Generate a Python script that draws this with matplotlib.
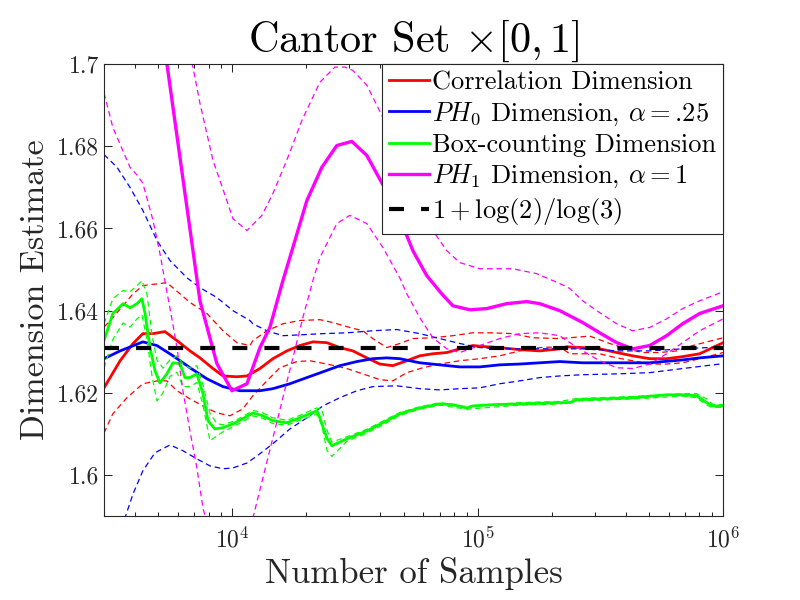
import numpy as np
import matplotlib
matplotlib.use("Agg")
import matplotlib.pyplot as plt
from matplotlib.ticker import FixedLocator, FixedFormatter, LogLocator, NullFormatter

plt.rcParams.update({
    "font.family": "cmr10",
    "mathtext.fontset": "cm",
    "axes.formatter.use_mathtext": True,
})

TITLE = r"Cantor Set $\times[0,1]$"
XLABEL = "Number of Samples"
YLABEL = "Dimension Estimate"
LABELS = ["Correlation Dimension", r"$PH_0$ Dimension, $\alpha=$.25",
          "Box-counting Dimension", r"$PH_1$ Dimension, $\alpha=1$",
          r"$1+\log(2)/\log(3)$"]

# ---- Correlation dimension (red) ----
corr_n = [3000, 3490, 3940, 4320, 4750, 5310, 5950, 6720, 7380, 8340, 9160, 10440, 11470,
          12950, 14630, 16680, 18840, 21290, 24270, 27420, 30960, 35310, 39900, 45050,
          51380, 58050, 65570, 74780, 84450, 95390, 108800, 122870, 148260, 178790,
          215750, 230340, 267570, 313800, 368100, 427500, 501500, 588100, 683300, 801600, 1000000]
corr_y = [1.6212, 1.6278, 1.6320, 1.6344, 1.6344, 1.6349, 1.6327, 1.6302, 1.6285, 1.6259,
          1.6241, 1.6239, 1.6241, 1.6259, 1.6283, 1.6302, 1.6315, 1.6324, 1.6322, 1.6310,
          1.6302, 1.6285, 1.6270, 1.6266, 1.6278, 1.6290, 1.6295, 1.6298, 1.6307, 1.6315,
          1.6312, 1.6310, 1.6305, 1.6302, 1.6307, 1.6312, 1.6310, 1.6307, 1.6298, 1.6290,
          1.6283, 1.6283, 1.6288, 1.6295, 1.6322]
corr_hi_n = [3000, 3260, 3940, 4320, 5410, 6120, 6720, 7880, 9160, 10440, 11790, 12130, 13830,
             16070, 18840, 22730, 25680, 30110, 34030, 37350, 42590, 48110, 54350, 65570,
             79080, 95390, 115070, 138860, 167420, 215750, 285710, 344800, 404200, 469600,
             550800, 646200, 750500, 1000000]
corr_hi_y = [1.6360, 1.6383, 1.6441, 1.6461, 1.6468, 1.6441, 1.6420, 1.6393, 1.6351, 1.6322,
             1.6315, 1.6327, 1.6351, 1.6368, 1.6376, 1.6378, 1.6371, 1.6359, 1.6351, 1.6332,
             1.6310, 1.6320, 1.6332, 1.6334, 1.6339, 1.6346, 1.6346, 1.6344, 1.6334, 1.6332,
             1.6338, 1.6320, 1.6307, 1.6298, 1.6298, 1.6302, 1.6315, 1.6334]
corr_lo_n = [3000, 3260, 3720, 4320, 4930, 5410, 5950, 6720, 7590, 8650, 9780, 11040, 12130,
             13830, 15620, 18330, 20700, 24270, 29280, 34030, 39900, 45050, 51380, 59700,
             70010, 84450, 101870, 122870, 148260, 178790, 215750, 236900, 313800, 368100,
             427500, 501500, 588100, 683300, 801600, 1000000]
corr_lo_y = [1.6102, 1.6149, 1.6188, 1.6222, 1.6229, 1.6229, 1.6205, 1.6185, 1.6168, 1.6151,
             1.6144, 1.6161, 1.6193, 1.6229, 1.6261, 1.6276, 1.6278, 1.6270, 1.6259, 1.6246,
             1.6232, 1.6229, 1.6249, 1.6261, 1.6270, 1.6278, 1.6283, 1.6290, 1.6302, 1.6310,
             1.6312, 1.6295, 1.6295, 1.6285, 1.6278, 1.6270, 1.6270, 1.6273, 1.6283, 1.6298]

# ---- PH0 dimension (blue) ----
ph0_n = [3000, 3490, 4320, 4930, 5730, 6720, 7880, 9160, 10730, 12950, 14630, 17160, 20120,
         23380, 27420, 32170, 37350, 42590, 48110, 58050, 70010, 84450, 101870, 122870,
         148260, 178790, 215750, 267570, 368100, 501500, 683300, 801600, 1000000]
ph0_y = [1.6283, 1.6302, 1.6324, 1.6315, 1.6290, 1.6261, 1.6234, 1.6215, 1.6205, 1.6205,
         1.6210, 1.6222, 1.6237, 1.6251, 1.6266, 1.6276, 1.6283, 1.6285, 1.6283, 1.6273,
         1.6268, 1.6263, 1.6263, 1.6268, 1.6270, 1.6273, 1.6276, 1.6273, 1.6273, 1.6273,
         1.6280, 1.6285, 1.6290]
ph0_hi_n = [3000, 3390, 3830, 4320, 4930, 5570, 6530, 7380, 8650, 10050, 11790, 12130, 13830,
            16070, 18840, 23380, 29280, 37350, 46800, 58050, 70010, 84450, 101870, 122870,
            178790, 267570, 368100, 501500, 683300, 1000000]
ph0_hi_y = [1.6780, 1.6749, 1.6700, 1.6644, 1.6571, 1.6522, 1.6480, 1.6456, 1.6432, 1.6400,
            1.6376, 1.6368, 1.6351, 1.6339, 1.6341, 1.6344, 1.6346, 1.6351, 1.6354, 1.6344,
            1.6332, 1.6320, 1.6310, 1.6307, 1.6307, 1.6307, 1.6302, 1.6302, 1.6307, 1.6312]
ph0_lo_n = [3000, 3650, 3940, 4320, 4840, 5570, 6290, 7170, 8110, 9160, 10050, 11470, 12590,
            14630, 17160, 20120, 23380, 27420, 32170, 37350, 46800, 58050, 70010, 84450,
            101870, 122870, 148260, 178790, 215750, 267570, 368100, 501500, 683300, 1000000]
ph0_lo_y = [1.5740, 1.5895, 1.5954, 1.6010, 1.6054, 1.6073, 1.6059, 1.6039, 1.6022, 1.6015,
            1.6017, 1.6029, 1.6046, 1.6076, 1.6112, 1.6139, 1.6168, 1.6188, 1.6205, 1.6215,
            1.6217, 1.6210, 1.6207, 1.6210, 1.6212, 1.6222, 1.6229, 1.6237, 1.6241, 1.6244,
            1.6246, 1.6249, 1.6259, 1.6271]

# ---- Box-counting dimension (green) ----
box_n = [3000, 3260, 3590, 3830, 4090, 4280, 4410, 4620, 4840, 5070, 5410, 5730, 6120, 6410,
         6720, 7170, 7590, 7960, 8490, 9160, 10050, 11040, 12130, 13320, 14630, 16680, 18840,
         22100, 22730, 24270, 25440, 29280, 35310, 42590, 48110, 58050, 70010, 79080, 90190,
         95390, 115070, 148260, 215750, 236900, 252980, 313800, 427500, 588100, 683300,
         779000, 855900, 905300, 1000000]
box_y = [1.6327, 1.6393, 1.6417, 1.6407, 1.6417, 1.6429, 1.6393, 1.6310, 1.6254, 1.6224,
         1.6246, 1.6273, 1.6271, 1.6237, 1.6237, 1.6246, 1.6198, 1.6132, 1.6112, 1.6115,
         1.6124, 1.6137, 1.6151, 1.6144, 1.6132, 1.6127, 1.6139, 1.6156, 1.6139, 1.6090,
         1.6071, 1.6088, 1.6107, 1.6132, 1.6149, 1.6163, 1.6173, 1.6171, 1.6163, 1.6168,
         1.6171, 1.6173, 1.6176, 1.6176, 1.6183, 1.6185, 1.6188, 1.6195, 1.6195, 1.6193,
         1.6176, 1.6168, 1.6168]
box_b_n = [3000, 3260, 3590, 3830, 4090, 4280, 4490, 4710, 4930, 5220, 5570, 5950, 6290, 6720,
           7170, 7590, 8110, 8650, 9160, 10050, 11040, 12130, 13320, 14630, 16680, 18840,
           22100, 23160, 24270, 25440, 29280, 35310, 42590, 48110, 58050, 70010, 90190,
           148260, 215750, 252980, 427500, 683300, 779000, 855900, 905300, 1000000]
box_hi_y = [1.6368, 1.6429, 1.6449, 1.6446, 1.6461, 1.6473, 1.6440, 1.6340, 1.6280, 1.6260,
            1.6280, 1.6290, 1.6270, 1.6260, 1.6266, 1.6220, 1.6150, 1.6125, 1.6122, 1.6130,
            1.6142, 1.6157, 1.6151, 1.6139, 1.6133, 1.6145, 1.6163, 1.6160, 1.6110, 1.6080,
            1.6093, 1.6111, 1.6136, 1.6152, 1.6166, 1.6176, 1.6166, 1.6176, 1.6179, 1.6186,
            1.6191, 1.6198, 1.6198, 1.6185, 1.6172, 1.6171]
box_lo_y = [1.6260, 1.6330, 1.6370, 1.6360, 1.6380, 1.6390, 1.6330, 1.6240, 1.6180, 1.6200,
            1.6240, 1.6250, 1.6215, 1.6215, 1.6225, 1.6170, 1.6083, 1.6095, 1.6105, 1.6117,
            1.6130, 1.6144, 1.6138, 1.6125, 1.6121, 1.6133, 1.6148, 1.6120, 1.6060, 1.6045,
            1.6082, 1.6102, 1.6127, 1.6145, 1.6160, 1.6170, 1.6160, 1.6170, 1.6173, 1.6180,
            1.6185, 1.6192, 1.6188, 1.6170, 1.6164, 1.6165]

# ---- PH1 dimension (magenta) ----
ph1_n = [4490, 5410, 7380, 8650, 9960, 11470, 12960, 14220, 16070, 17490, 20120, 23160, 26650,
         30680, 35300, 41800, 50400, 54400, 62000, 71300, 79100, 92800, 108900, 131100,
         158200, 178800, 215600, 267700, 313800, 368200, 427800, 501600, 588000, 683000,
         801700, 1000000]
ph1_y = [1.7350, 1.7002, 1.6424, 1.6271, 1.6205, 1.6222, 1.6310, 1.6359, 1.6473, 1.6546,
         1.6668, 1.6749, 1.6802, 1.6812, 1.6778, 1.6698, 1.6595, 1.6546, 1.6485, 1.6441,
         1.6412, 1.6402, 1.6405, 1.6417, 1.6422, 1.6417, 1.6400, 1.6371, 1.6346, 1.6322,
         1.6307, 1.6315, 1.6339, 1.6368, 1.6393, 1.6412]
ph1_hi_n = [5070, 6910, 7380, 8340, 9500, 10050, 11470, 13200, 14630, 16840, 19200, 22730,
            26170, 28730, 30960, 35310, 41030, 50400, 65570, 74780, 84450, 101870, 138860,
            173830, 215750, 236900, 267570, 313800, 368100, 427500, 501500, 588100, 683300,
            801600, 1000000]
ph1_hi_y = [1.7300, 1.6993, 1.6905, 1.6766, 1.6668, 1.6624, 1.6595, 1.6632, 1.6685, 1.6773,
            1.6863, 1.6956, 1.6993, 1.6993, 1.6985, 1.6949, 1.6871, 1.6720, 1.6595, 1.6546,
            1.6517, 1.6502, 1.6502, 1.6490, 1.6466, 1.6454, 1.6424, 1.6395, 1.6368, 1.6351,
            1.6359, 1.6380, 1.6405, 1.6424, 1.6446]
ph1_lo_n = [3000, 3260, 3830, 4090, 4320, 4750, 5070, 5310, 5660, 5950, 6290, 6720, 7170,
            7590, 7780, 9500, 12130, 13320, 14630, 16070, 17650, 19380, 21290, 22730, 26660,
            30110, 35310, 41030, 48110, 51380, 58050, 65570, 74780, 84450, 101870, 122870,
            148260, 178790, 215750, 230340, 267570, 313800, 368100, 427500, 501500, 588100,
            683300, 801600, 1000000]
ph1_lo_y = [1.6930, 1.6846, 1.6749, 1.6730, 1.6710, 1.6620, 1.6539, 1.6473, 1.6383, 1.6310,
            1.6205, 1.6107, 1.6017, 1.5920, 1.5895, 1.5600, 1.5895, 1.5993, 1.6090, 1.6188,
            1.6285, 1.6383, 1.6473, 1.6529, 1.6612, 1.6632, 1.6612, 1.6554, 1.6480, 1.6441,
            1.6383, 1.6334, 1.6307, 1.6298, 1.6315, 1.6332, 1.6344, 1.6346, 1.6339, 1.6327,
            1.6302, 1.6278, 1.6261, 1.6259, 1.6270, 1.6295, 1.6322, 1.6351, 1.6380]

# ---- reference value ----
ref_n = [3000, 1000000]
ref_val = 1 + np.log(2) / np.log(3)

xlim = (3000, 1000000)
ylim = (1.59, 1.70)
yticks = [1.60, 1.62, 1.64, 1.66, 1.68, 1.70]
yticklabels = ["1.6", "1.62", "1.64", "1.66", "1.68", "1.7"]
xticks = [1e4, 1e5, 1e6]
xticklabels = [r"$10^4$", r"$10^5$", r"$10^6$"]

AX_COL = (0.15, 0.15, 0.15)

fig = plt.figure(figsize=(8, 6), dpi=100)
ax = fig.add_axes([0.13, 0.14, 0.774, 0.753])

dash = (4.5, 3.0)
series = [
    ((1, 0, 0), corr_n, corr_y, corr_hi_n, corr_hi_y, corr_lo_n, corr_lo_y, 2.0),
    ((0, 0, 1), ph0_n, ph0_y, ph0_hi_n, ph0_hi_y, ph0_lo_n, ph0_lo_y, 2.0),
    ((0, 1, 0), box_n, box_y, box_b_n, box_hi_y, box_b_n, box_lo_y, 2.0),
    ((1, 0, 1), ph1_n, ph1_y, ph1_hi_n, ph1_hi_y, ph1_lo_n, ph1_lo_y, 2.4),
]
handles = []
for col, n, y, hn, hy, ln, ly, lw in series:
    h, = ax.plot(n, y, color=col, lw=lw, solid_joinstyle="round")
    ax.plot(hn, hy, color=col, lw=0.9, ls=(0, dash))
    ax.plot(ln, ly, color=col, lw=0.9, ls=(0, dash))
    handles.append(h)

h_ref, = ax.plot(ref_n, [ref_val, ref_val], color="k", lw=3.0, ls=(0, (3.6, 4.1)))
handles.append(h_ref)

ax.set_xscale("log")
ax.set_xlim(*xlim)
ax.set_ylim(*ylim)
ax.xaxis.set_major_locator(FixedLocator(xticks))
ax.xaxis.set_major_formatter(FixedFormatter(xticklabels))
ax.xaxis.set_minor_locator(LogLocator(base=10, subs=np.arange(2, 10)))
ax.xaxis.set_minor_formatter(NullFormatter())
ax.yaxis.set_major_locator(FixedLocator(yticks))
ax.yaxis.set_major_formatter(FixedFormatter(yticklabels))

ax.tick_params(which="both", direction="in", top=True, right=True, colors=AX_COL,
               labelsize=17, width=0.75)
ax.tick_params(which="major", length=6)
ax.tick_params(which="minor", length=3)
ax.tick_params(axis="x", pad=8)
for s in ax.spines.values():
    s.set_color(AX_COL)
    s.set_linewidth(0.8)

ax.set_title(TITLE, fontsize=30.5, color="k", pad=6)
ax.set_xlabel(XLABEL, fontsize=25, color=AX_COL, labelpad=3)
ax.set_ylabel(YLABEL, fontsize=24.5, color=AX_COL, labelpad=5)

leg = ax.legend(handles, LABELS, loc="upper right", fontsize=19, frameon=True,
                fancybox=False, framealpha=1, edgecolor=AX_COL, borderaxespad=0,
                handlelength=1.5, handletextpad=0.15, labelspacing=0.22,
                borderpad=0.25)
leg.get_frame().set_linewidth(0.8)

fig.savefig("out.png", dpi=100)
